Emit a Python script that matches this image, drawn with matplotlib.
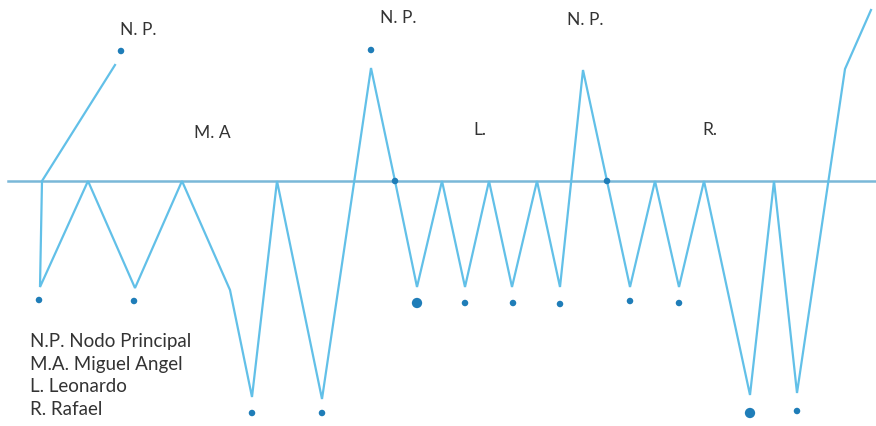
import matplotlib.pyplot as plt

# zigzag path: x position, level relative to the main line (up positive)
path_x = [115, 42, 40, 88, 135, 182, 230, 252, 277, 322, 371, 395, 417, 442, 465,
          489, 512, 537, 560, 583, 607, 630, 655, 679, 704, 750, 774, 797, 845, 871]
path_y = [116, 0, -106, 0, -107, 0, -109, -216, 0, -218, 113, 0, -106, 0, -106,
          0, -106, 0, -106, 111, 0, -106, 0, -106, 0, -214, 0, -212, 112, 171]

# nodes (dots)
node_x = [121, 371, 39, 134, 252, 322, 395, 417, 465, 513, 560, 607, 630, 679, 750, 797]
node_y = [130, 131, -119, -120, -232, -232, 0, -122, -122, -122, -123, 0, -120, -122, -232, -230]
node_big = [False, False, False, False, False, False, False, True, False, False, False,
            False, False, False, True, False]

# labels
group_labels = ["N. P.", "N. P.", "N. P.", "M. A", "L.", "R."]
group_x = [138, 398, 585, 212, 480, 710]
group_y = [151, 163, 161, 48, 51, 51]

legend_lines = ["N.P. Nodo Principal", "M.A. Miguel Angel", "L. Leonardo", "R. Rafael"]

line_col = "#62c0e8"
base_col = "#7ab8d8"
dot_col = "#1f7db8"

fig = plt.figure(figsize=(8.76, 4.26), dpi=100)
ax = fig.add_axes([0, 0, 1, 1])
ax.set_xlim(0, 876)
ax.set_ylim(-245, 181)
ax.axis("off")

ax.plot([8, 876], [0, 0], color=base_col, lw=1.8, zorder=1)
ax.plot(path_x, path_y, color=line_col, lw=1.6, solid_joinstyle="miter", zorder=2)

sizes = [55 if b else 22 for b in node_big]
ax.scatter(node_x, node_y, s=sizes, color=dot_col, edgecolors="none", zorder=3)

for lab, x, y in zip(group_labels, group_x, group_y):
    ax.text(x, y, lab, ha="center", va="center", fontsize=12.5, color="#333333",
            family="Lato")

for i, lab in enumerate(legend_lines):
    ax.text(30, -161 - i * 22.4, lab, ha="left", va="center", fontsize=13.5,
            color="#333333", family="Lato")

plt.savefig("out.png", dpi=100)
